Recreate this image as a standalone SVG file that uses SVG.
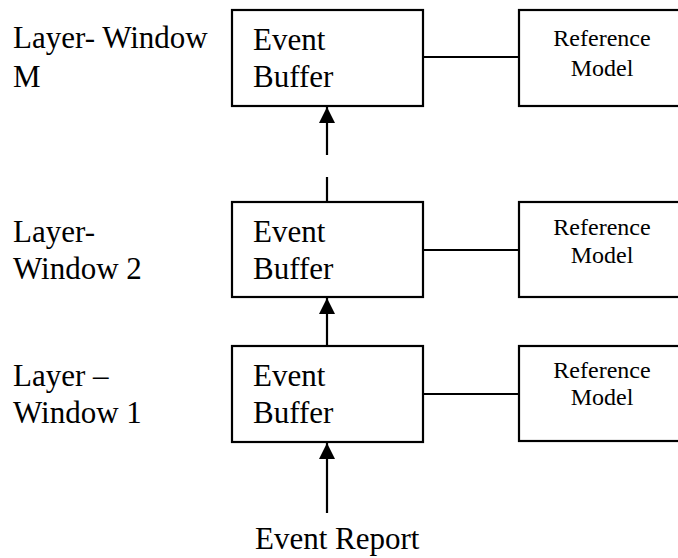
<svg xmlns="http://www.w3.org/2000/svg" width="678" height="558" viewBox="0 0 678 558">
<style>
.box{fill:#fff;stroke:#000;stroke-width:2.2}
.t{font-family:"Liberation Serif","Times New Roman",serif;font-size:31px;fill:#000}
.s{font-family:"Liberation Serif","Times New Roman",serif;font-size:24px;fill:#000;text-anchor:middle}
.ln{stroke:#000;stroke-width:2.2;fill:none}
</style>
<defs>
<marker id="ah" markerWidth="16" markerHeight="17" refX="16" refY="8" orient="auto" markerUnits="userSpaceOnUse">
<path d="M0,0 L16,8 L0,16 Z" fill="#000"/>
</marker>
</defs>
<rect width="678" height="558" fill="#fff"/>
<g id="labels">
<text class="t" x="13" y="48">Layer- Window</text>
<text class="t" x="13" y="87">M</text>
<text class="t" x="13" y="242">Layer-</text>
<text class="t" x="13" y="279">Window 2</text>
<text class="t" x="13" y="386">Layer –</text>
<text class="t" x="13" y="423">Window 1</text>
</g>
<g id="connectors">
<line class="ln" x1="423" y1="57" x2="519" y2="57"/>
<line class="ln" x1="423" y1="250" x2="519" y2="250"/>
<line class="ln" x1="423" y1="394" x2="519" y2="394"/>
<line class="ln" x1="327" y1="155" x2="327" y2="107" marker-end="url(#ah)"/>
<line class="ln" x1="327" y1="202" x2="327" y2="177"/>
<line class="ln" x1="327" y1="346" x2="327" y2="298" marker-end="url(#ah)"/>
<line class="ln" x1="327" y1="513" x2="327" y2="443" marker-end="url(#ah)"/>
</g>
<g id="buffer-m">
<rect class="box" x="232" y="10" width="191" height="96"/>
<text class="t" x="253" y="50">Event</text>
<text class="t" x="253" y="87">Buffer</text>
</g>
<g id="ref-m">
<rect class="box" x="519" y="10" width="180" height="96"/>
<text class="s" x="602" y="46">Reference</text>
<text class="s" x="602" y="76">Model</text>
</g>
<g id="buffer-2">
<rect class="box" x="232" y="202" width="191" height="95"/>
<text class="t" x="253" y="242">Event</text>
<text class="t" x="253" y="279">Buffer</text>
</g>
<g id="ref-2">
<rect class="box" x="519" y="202" width="180" height="95"/>
<text class="s" x="602" y="235">Reference</text>
<text class="s" x="602" y="263">Model</text>
</g>
<g id="buffer-1">
<rect class="box" x="232" y="346" width="191" height="96"/>
<text class="t" x="253" y="386">Event</text>
<text class="t" x="253" y="423">Buffer</text>
</g>
<g id="ref-1">
<rect class="box" x="519" y="346" width="180" height="95"/>
<text class="s" x="602" y="378">Reference</text>
<text class="s" x="602" y="405">Model</text>
</g>
<g id="event-report">
<text class="t" x="255" y="549">Event Report</text>
</g>
</svg>
